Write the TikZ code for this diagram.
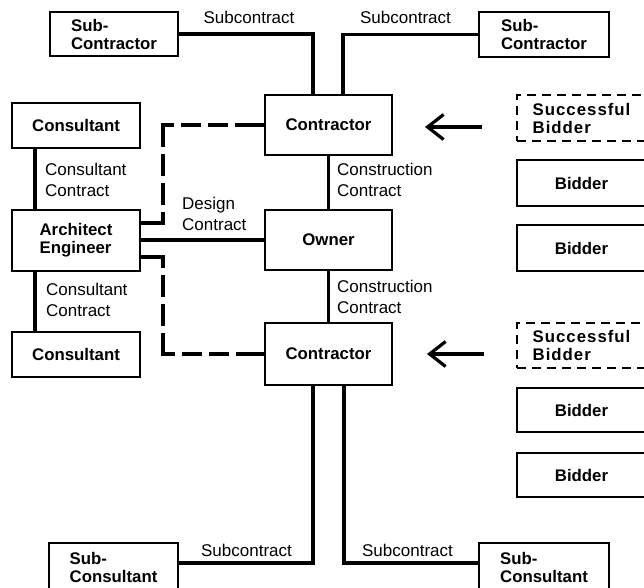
\documentclass[tikz,border=0pt]{standalone}
\usepackage{fontspec}
\setmainfont{Liberation Sans}
\usetikzlibrary{arrows.meta,calc}
\begin{document}
\begin{tikzpicture}[x=1pt,y=-1pt,
  box/.style={draw,line width=2pt,inner sep=0pt,align=left,
    font=\bfseries\fontsize{16.8}{18}\selectfont},
  dbox/.style={box,dash pattern=on 9pt off 6pt},
  spaced/.style={font=\bfseries\fontsize{16.8}{18}\selectfont\addfontfeature{LetterSpace=6}},
  lbl/.style={inner sep=0pt,align=left,font=\fontsize{17}{21}\selectfont},
  wire/.style={line width=3.2pt},
  dwire/.style={line width=3.2pt,
    dash pattern=on 33pt off 7pt on 22pt off 7pt on 22pt off 7pt on 33pt off 7pt on 20pt off 7pt on 20pt off 7pt on 40pt},
  pick/.style={wire,-{Straight Barb[length=16pt,width=25pt]}}]
\path[use as bounding box,clip] (0,0) rectangle (644,587);

% central chain: contractors and owner
\node[box,minimum width=127pt,minimum height=60pt] (conT) at (328.5,125) {Contractor};
\node[box,minimum width=127pt,minimum height=60pt] (owner) at (328.5,240) {Owner};
\node[box,minimum width=127pt,minimum height=62pt] (conB) at (328.5,354) {Contractor};

% sub-contractors and sub-consultants
\node[box,minimum width=128pt,minimum height=44pt] (scL) at (114,34) {Sub-\\Contractor};
\node[box,minimum width=130pt,minimum height=45pt] (scR) at (544,34.5) {Sub-\\Contractor};
\node[box,minimum width=129pt,minimum height=48pt] (subL) at (113.5,567) {Sub-\\Consultant};
\node[box,minimum width=130pt,minimum height=48pt] (subR) at (544,567) {Sub-\\Consultant};

% design side
\node[box,minimum width=128pt,minimum height=45pt] (consT) at (76,125.5) {Consultant};
\node[box,minimum width=128pt,minimum height=61pt] (arch) at (76,240) {Architect\\Engineer};
\node[box,minimum width=128pt,minimum height=45pt] (consB) at (76,354.5) {Consultant};

% bidders
\node[dbox,spaced,minimum width=129pt,minimum height=46pt] (sbT) at (581.5,118) {Successful\\Bidder};
\node[box,minimum width=129pt,minimum height=46pt] (b1) at (581.5,183) {Bidder};
\node[box,minimum width=129pt,minimum height=46pt] (b2) at (581.5,248) {Bidder};
\node[dbox,spaced,minimum width=129pt,minimum height=45pt] (sbB) at (581.5,345.5) {Successful\\Bidder};
\node[box,minimum width=129pt,minimum height=44pt] (b3) at (581.5,410) {Bidder};
\node[box,minimum width=129pt,minimum height=44pt] (b4) at (581.5,475) {Bidder};

% contract lines
\draw[wire] (scL.east) -| ([xshift=-15.5pt]conT.north);
\draw[wire] (scR.west) -| ([xshift=14.5pt]conT.north);
\draw[wire] (conT) -- (owner);
\draw[wire] (owner) -- (conB);
\draw[wire] (arch) -- (owner);
\draw[wire] ([xshift=-41pt]consT.south) -- ([xshift=-41pt]arch.north);
\draw[wire] ([xshift=-41pt]arch.south) -- ([xshift=-41pt]consB.north);
\draw[wire] ([xshift=-15.5pt]conB.south) |- ([yshift=4pt]subL.east);
\draw[wire] ([xshift=15.5pt]conB.south) |- ([yshift=4pt]subR.west);

% dashed links between architect and contractors
\coordinate (dx) at (163,0);
\draw[dwire] ($(arch.east)+(0,-17)$) -| (dx |- conT.west) -- (conT.west);
\draw[dwire] ($(arch.east)+(0,17)$) -| (dx |- conB.west) -- (conB.west);

% award arrows
\draw[pick] ($(conT.east -| sbT.west)+(-34,2)$) -- ($(conT.east)+(32,2)$);
\draw[pick] ($(conB.east -| sbB.west)+(-32,0)$) -- ($(conB.east)+(34,0)$);

% contract labels
\node[lbl] (lSubTL) at (249,17) {Subcontract};
\node[lbl] (lSubTR) at (405.5,17) {Subcontract};
\node[lbl] (lSubBL) at (246.5,550) {Subcontract};
\node[lbl] (lSubBR) at (407.5,550) {Subcontract};
\node[lbl,anchor=west] (lConsT) at (45,180) {Consultant\\Contract};
\node[lbl,anchor=west] (lConsB) at (46,300) {Consultant\\Contract};
\node[lbl,anchor=west] (lDesign) at (182,214) {Design\\Contract};
\node[lbl,anchor=west] (lConstrT) at (337,180) {Construction\\Contract};
\node[lbl,anchor=west] (lConstrB) at (337,297) {Construction\\Contract};
\end{tikzpicture}
\end{document}
